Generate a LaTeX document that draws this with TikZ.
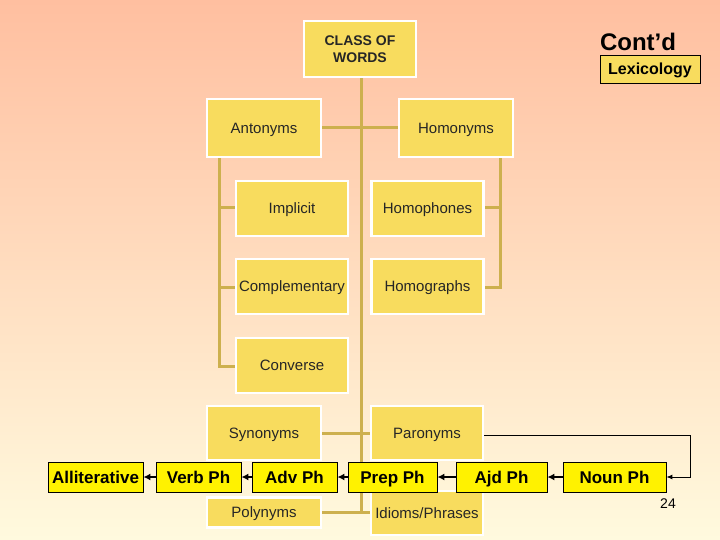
\documentclass[tikz,border=0pt]{standalone}
\usepackage{fontspec}
\setmainfont{Liberation Sans}
\usepackage{xcolor}
\usetikzlibrary{positioning, arrows.meta, calc}

\definecolor{peach}{HTML}{FFBFA0}
\definecolor{paleyel}{HTML}{FFF4C2}
\definecolor{cream}{HTML}{FFFADE}
\definecolor{boxyel}{HTML}{F8DC5E}
\definecolor{linkcol}{HTML}{CDB04E}

\begin{document}
\begin{tikzpicture}[
    x=1pt, y=-1pt,
    boxbase/.style={rectangle, draw=white, line width=2.5pt, fill=boxyel, minimum width=112pt, minimum height=55pt, inner sep=0pt, align=center, text=black!85},
    cw/.style={boxbase, font=\fontsize{15}{17}\selectfont, text height=11pt, text depth=0.5pt},
    rootbox/.style={boxbase, font=\fontsize{14}{17}\selectfont\bfseries},
    pw/.style={rectangle, draw=black, line width=0.8pt, fill=yellow, minimum height=30pt, inner sep=0pt, text height=12.5pt, text depth=0.5pt, font=\fontsize{17}{19}\selectfont\bfseries},
    link/.style={draw=linkcol, line width=3pt},
    arr/.style={-{Latex[length=7pt, width=7pt]}, line width=2pt},
    feed/.style={-{Latex[length=6pt, width=5pt]}, line width=0.9pt}
]
\useasboundingbox (0,0) rectangle (720,540);
\shade[top color=peach, middle color=paleyel, bottom color=cream] (0,0) rectangle (720,540);

% connectors under the boxes
\coordinate (trunkend) at (361,512);
\coordinate (lspine) at (219,157);
\coordinate (rspine) at (500,157);
\coordinate (bend) at (690,477);

\draw[link] (361,77) -- (trunkend);
\draw[link] (264,128) -- (456,128);
\draw[link] (264,433) -- (427,433);
\draw[link] (264,512) -- (427,512);
\draw[link] (lspine) |- (292,366);
\draw[link] (lspine |- 0,208) -- (292,208);
\draw[link] (lspine |- 0,287) -- (292,287);
\draw[link] (rspine) |- (427,287);
\draw[link] (rspine |- 0,208) -- (427,208);

\node[rootbox, minimum width=112pt, minimum height=56pt] (cls) at (360,49) {CLASS OF\\WORDS};
\node[cw, minimum width=114pt, minimum height=58pt] (ant) at (264,128) {Antonyms};
\node[cw, minimum width=114pt, minimum height=58pt] (hom) at (456,128) {Homonyms};
\node[cw] (impl) at (292,208.5) {Implicit};
\node[cw] (phon) at (427.5,208.5) {Homophones};
\node[cw] (compl) at (292,286.5) {Complementary};
\node[cw] (graph) at (427.5,286.5) {Homographs};
\node[cw] (conv) at (292,365.5) {Converse};
\node[cw, minimum width=114pt, minimum height=54pt] (syn) at (264,433) {Synonyms};
\node[cw, minimum height=54pt] (par) at (427,433) {Paronyms};
\node[cw, minimum width=114pt, minimum height=30pt] (poly) at (264,512.5) {Polynyms};
\node[cw, minimum height=44pt] (idiom) at (427,513) {Idioms/Phrases};

\node[pw, minimum width=95pt] (allit) at (95.5,477) {Alliterative};
\node[pw, minimum width=85pt] (verb) at (198.5,477) {Verb Ph};
\node[pw, minimum width=85pt] (adv) at (294.5,477) {Adv Ph};
\node[pw, minimum width=89pt] (prep) at (392.5,477) {Prep Ph};
\node[pw, minimum width=91pt] (ajd) at (501.5,477) {Ajd Ph};
\node[pw, minimum width=103pt] (noun) at (614.5,477) {Noun Ph};

\draw[arr] (noun) -- (ajd);
\draw[arr] (ajd) -- (prep);
\draw[arr] (prep) -- (adv);
\draw[arr] (adv) -- (verb);
\draw[arr] (verb) -- (allit);
\draw[feed] (par.east |- 0,435) -| (bend) -- (noun.east);

\node[font=\fontsize{24}{26}\selectfont\bfseries] (contd) at (638,42) {Cont'd};
\node[pw, fill=boxyel, minimum width=100pt, minimum height=28pt, text height=11.5pt, font=\fontsize{16}{18}\selectfont\bfseries] (lex) at (650,69) {Lexicology};
\node[font=\fontsize{14}{16}\selectfont] (pgno) at (668,504) {24};

\end{tikzpicture}
\end{document}
